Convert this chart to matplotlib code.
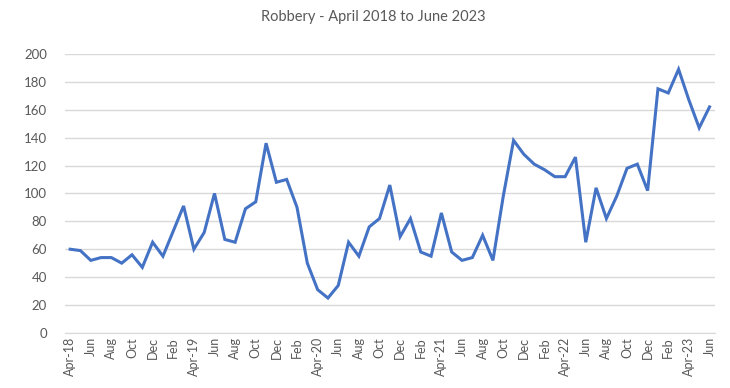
import matplotlib.pyplot as plt
import numpy as np

plt.rcParams['font.family'] = ['Lato', 'DejaVu Sans']

# month labels: every second month shown, year added on April
months = ['Apr', 'May', 'Jun', 'Jul', 'Aug', 'Sep', 'Oct', 'Nov', 'Dec', 'Jan', 'Feb', 'Mar']
labels = []
for i in range(63):
    m = months[i % 12]
    year = 18 + (i + 3) // 12
    labels.append(f'{m}-{year}' if m == 'Apr' else m)

robbery = [60, 59, 52, 54, 54, 50, 56, 47, 65, 55, 73, 91,
           60, 72, 100, 67, 65, 89, 94, 136, 108, 110, 90, 50,
           31, 25, 34, 65, 55, 76, 82, 106, 69, 82, 58, 55,
           86, 58, 52, 54, 70, 52, 98, 138, 128, 121, 117, 112,
           112, 126, 65, 104, 82, 98, 118, 121, 102, 175, 172, 189,
           167, 147, 162]

yticks = np.arange(0, 201, 20)

fig = plt.figure(figsize=(7.3, 3.88), dpi=100)
ax = fig.add_axes([0.089, 0.142, 0.890, 0.719])

x = np.arange(len(robbery))
ax.plot(x, robbery, color='#4472C4', linewidth=2.2, solid_joinstyle='miter')

ax.set_xlim(-0.5, len(robbery) - 0.5)
ax.set_ylim(0, 200)
ax.set_yticks(yticks)
ax.set_xticks(x[::2])
ax.set_xticklabels(labels[::2], rotation=90, fontsize=9, color='#595959')
ax.tick_params(axis='y', labelsize=9.5, labelcolor='#595959', length=0, pad=13)
ax.tick_params(axis='x', length=0, pad=3)

ax.grid(axis='y', color='#D9D9D9', linewidth=1)
ax.set_axisbelow(True)
for side in ['top', 'right', 'left']:
    ax.spines[side].set_visible(False)
ax.spines['bottom'].set_color('#D9D9D9')

fig.text(0.512, 0.955, 'Robbery - April 2018 to June 2023', ha='center', va='center',
         fontsize=10.5, color='#595959')

fig.savefig('out.png', dpi=100)
